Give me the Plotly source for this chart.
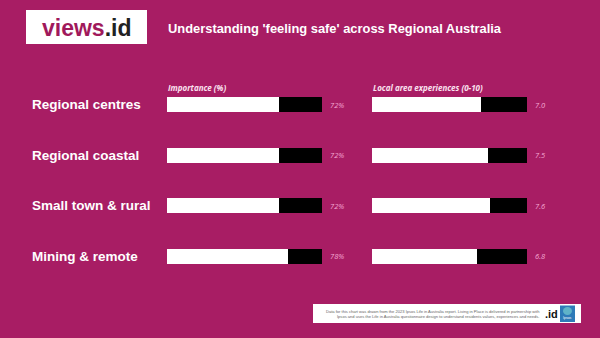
import plotly.graph_objects as go

categories = ["Regional centres", "Regional coastal", "Small town & rural", "Mining & remote"]
importance = [72, 72, 72, 78]
experience = [7.0, 7.5, 7.6, 6.8]
importance_labels = ["72%", "72%", "72%", "78%"]
experience_labels = ["7.0", "7.5", "7.6", "6.8"]
IMP_MAX = 100
EXP_MAX = 10

BG = "#A81D64"
PINK_TXT = "#F5A9D3"
W, H = 600, 338

def px(x):
    return x / W

def py(y):
    return 1 - y / H

fig = go.Figure()
bw = 0.3
fig.add_trace(go.Bar(y=categories, x=importance, orientation="h", marker=dict(color="white", line=dict(width=0)),
                     width=bw, xaxis="x", yaxis="y", showlegend=False, hoverinfo="skip"))
fig.add_trace(go.Bar(y=categories, x=[IMP_MAX - v for v in importance], orientation="h",
                     marker=dict(color="black", line=dict(width=0)), width=bw, xaxis="x", yaxis="y",
                     showlegend=False, hoverinfo="skip"))
fig.add_trace(go.Bar(y=categories, x=experience, orientation="h", marker=dict(color="white", line=dict(width=0)),
                     width=bw, xaxis="x2", yaxis="y", showlegend=False, hoverinfo="skip"))
fig.add_trace(go.Bar(y=categories, x=[EXP_MAX - v for v in experience], orientation="h",
                     marker=dict(color="black", line=dict(width=0)), width=bw, xaxis="x2", yaxis="y",
                     showlegend=False, hoverinfo="skip"))

annotations = []
for cat, lab in zip(categories, importance_labels):
    annotations.append(dict(x=IMP_MAX, y=cat, xref="x", yref="y", text=lab, showarrow=False,
                            xanchor="left", xshift=6, font=dict(family="Open Sans", size=7.5, color=PINK_TXT, style="italic")))
for cat, lab in zip(categories, experience_labels):
    annotations.append(dict(x=EXP_MAX, y=cat, xref="x2", yref="y", text=lab, showarrow=False,
                            xanchor="left", xshift=6, font=dict(family="Open Sans", size=7.5, color=PINK_TXT, style="italic")))
for cat in categories:
    annotations.append(dict(x=px(29.5), y=cat, xref="paper", yref="y", text="<b>" + cat + "</b>", showarrow=False,
                            xanchor="left", font=dict(family="Liberation Sans", size=13.5, color="white")))

annotations += [
    dict(x=px(165.5), y=py(87), xref="paper", yref="paper", text="<b><i>Importance (%)</i></b>", showarrow=False,
         xanchor="left", yanchor="middle", font=dict(family="Open Sans", size=8, color="#FBE3F0")),
    dict(x=px(370.5), y=py(87), xref="paper", yref="paper", text="<b><i>Local area experiences (0-10)</i></b>",
         showarrow=False, xanchor="left", yanchor="middle", font=dict(family="Open Sans", size=8, color="#FBE3F0")),
    dict(x=px(165.5), y=py(29), xref="paper", yref="paper",
         text="<b>Understanding 'feeling safe' across Regional Australia</b>", showarrow=False,
         xanchor="left", yanchor="middle", font=dict(family="Liberation Sans", size=12.9, color="white")),
    dict(x=px(87), y=py(28), xref="paper", yref="paper",
         text="<b><span style='color:#A0195B'>views</span><span style='color:#222222'>.id</span></b>",
         showarrow=False, xanchor="center", yanchor="middle", font=dict(family="Liberation Sans", size=23)),
    dict(x=px(541), y=py(313.5), xref="paper", yref="paper",
         text="Data for this chart was drawn from the 2023 Ipsos Life in Australia report. Living in Place is delivered in partnership with<br>Ipsos and uses the Life in Australia questionnaire design to understand residents values, experiences and needs.",
         showarrow=False, xanchor="right", yanchor="middle", align="right",
         font=dict(family="Liberation Sans", size=4.05, color="#666666")),
    dict(x=px(551), y=py(313.5), xref="paper", yref="paper", text="<b>.id</b>", showarrow=False,
         xanchor="center", yanchor="middle", font=dict(family="Liberation Sans", size=11, color="#111111")),
    dict(x=px(567.5), y=py(318), xref="paper", yref="paper", text="Ipsos", showarrow=False,
         xanchor="center", yanchor="middle", font=dict(family="Liberation Sans", size=3.5, color="white")),
]

shapes = [
    dict(type="rect", xref="paper", yref="paper", x0=px(26), x1=px(147), y0=py(44), y1=py(10),
         fillcolor="white", line=dict(width=0), layer="below"),
    dict(type="rect", xref="paper", yref="paper", x0=px(313), x1=px(581), y0=py(323), y1=py(304),
         fillcolor="white", line=dict(width=0), layer="below"),
    dict(type="rect", xref="paper", yref="paper", x0=px(560), x1=px(575), y0=py(322), y1=py(305.5),
         fillcolor="#2E7BB8", line=dict(width=0)),
    dict(type="circle", xref="paper", yref="paper", x0=px(563), x1=px(572), y0=py(315), y1=py(307),
         fillcolor="#5FB3C8", line=dict(width=0)),
]

row0 = 104.5
step = 50.6
fig.update_layout(
    width=W, height=H, margin=dict(l=0, r=0, t=0, b=0),
    paper_bgcolor=BG, plot_bgcolor=BG, barmode="stack", bargap=0,
    xaxis=dict(domain=[px(167), px(322)], range=[0, IMP_MAX], visible=False, fixedrange=True),
    xaxis2=dict(domain=[px(372), px(527)], range=[0, EXP_MAX], visible=False, fixedrange=True),
    yaxis=dict(domain=[0, 1], range=[(H - row0) / step, -row0 / step], visible=False,
               categoryorder="array", categoryarray=categories, fixedrange=True),
    annotations=annotations, shapes=shapes,
)

fig.write_html("out.html")
